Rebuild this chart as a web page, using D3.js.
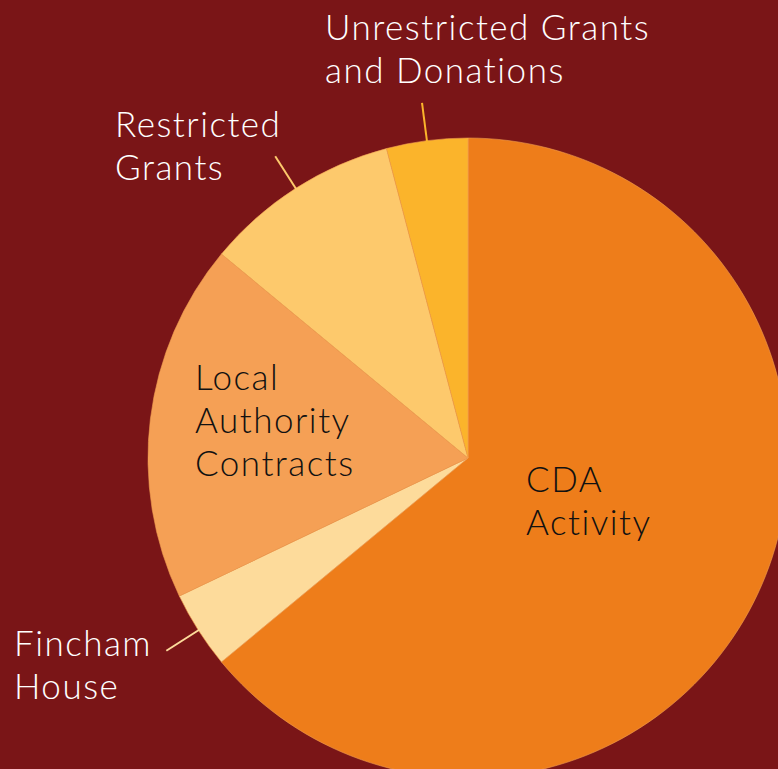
<!DOCTYPE html>
<html>
<head>
<meta charset="utf-8">
<script src="https://cdn.jsdelivr.net/npm/d3@7"></script>
<style>
  html, body { margin: 0; padding: 0; background: #7a1517; overflow: hidden; }
  svg { display: block; }
  text { font-family: Lato, "Open Sans", sans-serif; font-weight: 300; letter-spacing: 1.5px; }
</style>
</head>
<body>
<div class="pie"></div>
<script>
// slices clockwise from 12 o'clock
var categories = ["CDA Activity", "Fincham House", "Local Authority Contracts", "Restricted Grants", "Unrestricted Grants and Donations"];
var values = [64, 3.9, 18.1, 9.9, 4.1];
var colors = ["#ee7d1a", "#fddb9b", "#f5a055", "#fdc96c", "#fbb42b"];

// label lines and where they sit
var labelLines = [["CDA", "Activity"], ["Fincham", "House"], ["Local", "Authority", "Contracts"], ["Restricted", "Grants"], ["Unrestricted Grants", "and Donations"]];
var labelPos = [[526, 492], [14, 656], [195, 390], [115, 137], [325, 40]];
var labelColor = ["#111", "#fff", "#111", "#fff", "#fff"];
var hasLeader = [false, true, false, true, true];

var width = 778,
    height = 769,
    radius = 320,
    cx = 468,
    cy = 458;

var data = categories.map(function(c, i) {
    return {name: c, value: values[i], color: colors[i], lines: labelLines[i], pos: labelPos[i], tc: labelColor[i], leader: hasLeader[i]};
});

var arc = d3.arc()
    .outerRadius(radius)
    .innerRadius(0);

var pie = d3.pie()
    .sort(null)
    .value(function(d) { return d.value; });

var svg = d3.select('.pie').append("svg")
    .attr("width", width)
    .attr("height", height);

svg.append("rect")
    .attr("width", width)
    .attr("height", height)
    .attr("fill", "#7a1517");

var g = svg.append("g")
    .attr("transform", "translate(" + cx + "," + cy + ")");

var slices = g.selectAll(".arc")
    .data(pie(data))
    .enter().append("g");

slices.append("path")
    .attr("d", arc)
    .style("fill", function(d) { return d.data.color; })
    .style("stroke", "#f2a050")
    .style("stroke-width", 0.6);

// leader lines, radial at slice mid angle
var lineIn = d3.arc().innerRadius(318).outerRadius(318);
var lineOut = d3.arc().innerRadius(358).outerRadius(358);
slices.filter(function(d) { return d.data.leader; })
    .append("line")
    .attr("x1", function(d) { return lineIn.centroid(d)[0]; })
    .attr("y1", function(d) { return lineIn.centroid(d)[1]; })
    .attr("x2", function(d) { return lineOut.centroid(d)[0]; })
    .attr("y2", function(d) { return lineOut.centroid(d)[1]; })
    .style("stroke", function(d) { return d.data.color; })
    .style("stroke-width", 2);

// labels
var labels = svg.selectAll(".lbl")
    .data(data)
    .enter().append("text")
    .attr("class", "lbl")
    .attr("x", function(d) { return d.pos[0]; })
    .attr("y", function(d) { return d.pos[1]; })
    .attr("font-size", "35px")
    .attr("fill", function(d) { return d.tc; });

labels.selectAll("tspan")
    .data(function(d) { return d.lines.map(function(l) { return {t: l, x: d.pos[0]}; }); })
    .enter().append("tspan")
    .attr("x", function(d) { return d.x; })
    .attr("dy", function(d, i) { return i === 0 ? 0 : 43; })
    .text(function(d) { return d.t; });
</script>
</body>
</html>
